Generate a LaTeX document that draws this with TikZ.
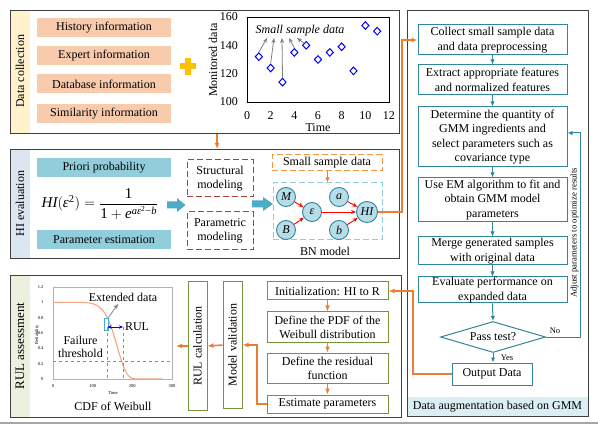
\documentclass[tikz,border=0pt]{standalone}
\usepackage{fontspec}
\setmainfont{Liberation Serif}
\usepackage{amsmath}
\usetikzlibrary{arrows.meta,shapes.geometric,calc}
\definecolor{cStripY}{HTML}{FFF2CC}
\definecolor{cStripB}{HTML}{DCE6F0}
\definecolor{cStripG}{HTML}{EBF1DE}
\definecolor{cStripM}{HTML}{DAEEF3}
\definecolor{cOrange}{HTML}{F8CBAD}
\definecolor{cTeal}{HTML}{92CDDC}
\definecolor{cBlock}{HTML}{4BACC6}
\definecolor{cRed}{HTML}{A9423C}
\definecolor{cOdash}{HTML}{F79646}
\definecolor{cBdash}{HTML}{93CDDD}
\definecolor{cNodeF}{HTML}{B7DEE8}
\definecolor{cNodeB}{HTML}{31859C}
\definecolor{cConn}{HTML}{ED7D31}
\definecolor{cOlive}{HTML}{77933C}
\definecolor{cGMM}{HTML}{31859C}
\definecolor{cPlus}{HTML}{FFC000}
\definecolor{cCurve}{HTML}{F4A582}
\definecolor{cPurple}{HTML}{8F7EC8}
\definecolor{cCyan}{HTML}{4BACC6}
\tikzset{
 outer/.style={draw=black!75, line width=1.3pt, inner sep=0},
 obox/.style={fill=cOrange, minimum width=134, minimum height=19, inner sep=0},
 tbox/.style={fill=cTeal, minimum width=134, minimum height=19, inner sep=0},
 rdash/.style={draw=cRed, line width=1pt, dash pattern=on 6pt off 3pt, minimum width=66, minimum height=37, align=center, inner sep=0},
 bnode/.style={circle, draw=cNodeB, fill=cNodeF, line width=0.9pt, minimum size=19, inner sep=0, font=\fontsize{12}{14}\selectfont\itshape},
 redarr/.style={-{Stealth[length=5pt,width=4pt]}, draw=red, line width=0.9pt},
 oarr/.style={-{Latex[length=6pt,width=5pt]}, draw=cConn, line width=1.5pt},
 gbox/.style={draw=cOlive, line width=1pt, minimum width=121, align=center, inner sep=0},
 mbox/.style={draw=cGMM, line width=1pt, fill=white, minimum width=149, align=center, inner sep=0, font=\fontsize{12}{14.5}\selectfont},
 tarr/.style={-{Latex[length=5pt,width=4.5pt]}, draw=cGMM, line width=1pt},
 garr/.style={-{Stealth[length=5pt,width=4pt]}, draw=gray, line width=0.8pt},
 ptm/.style={diamond, draw=blue, line width=1pt, minimum width=7.5, minimum height=8, inner sep=0},
 tinyf/.style={font=\fontsize{4.5}{5}\selectfont},
}
\begin{document}
\begin{tikzpicture}[x=1pt,y=-1pt,font=\fontsize{12}{14}\selectfont]
\useasboundingbox (0,0) rectangle (598,425);
% strips
\fill[cStripY] (10,10) rectangle (30,133);
\fill[cStripB] (10,149) rectangle (30,258);
\fill[cStripG] (10,275) rectangle (30,417);
\fill[cStripM] (407,397) rectangle (588,416);
% outer boxes
\node[outer, anchor=north west, minimum width=389, minimum height=123] (dc) at (10,10) {};
\node[outer, anchor=north west, minimum width=389, minimum height=109] (hi) at (10,149) {};
\node[outer, anchor=north west, minimum width=391, minimum height=142] (rul) at (10,275) {};
\node[outer, anchor=north west, minimum width=181, minimum height=406] (gmm) at (407,10) {};
\draw[gray!70, line width=1.5pt] (0,423) -- (598,423);
% section labels
\node[rotate=90] (dclab) at (20,71.5) {Data collection};
\node[rotate=90] (hilab) at (20,203.5) {HI evaluation};
\node[rotate=90, font=\fontsize{13}{15}\selectfont] (rullab) at (20,346) {RUL assessment};
\node (gmmlab) at (497.5,406.5) {Data augmentation based on GMM};
% data collection
\node[obox] (h1) at (104,27.5) {History information};
\node[obox] (h2) at (104,56) {Expert information};
\node[obox] (h3) at (104,84) {Database information};
\node[obox] (h4) at (104,113.5) {Similarity information};
\fill[cPlus] (180,63.5) rectangle (196,69.5);
\fill[cPlus] (185,58) rectangle (191,75);
% top plot
\draw[line width=0.8pt] (247,17) rectangle (389,102);
\foreach \v/\y in {160/17,140/45.33,120/73.67,100/102} \node[anchor=east, inner sep=0] at (238,\y) {\v};
\foreach \t in {0,2,4,6,8,10,12} \node[inner sep=0] at ({247+\t*11.833},116) {\t};
\node[rotate=90] (ylab) at (213,60) {Monitored data};
\node[inner sep=0] (xlab) at (318,128) {Time};
\foreach \i/\v in {1/132,2/124,3/114,4/135,5/140,6/130,7/135,8/139,9/122,10/154,11/150}
  \node[ptm] (p\i) at ({247+\i*11.833},{102-(\v-100)*1.4167}) {};
\node[font=\fontsize{12}{14}\selectfont\itshape] (ssdt) at (300,31) {Small sample data};
\draw[garr] (p1.north) -- (267,38);
\draw[garr] (p2.north) -- (274,38);
\draw[garr] (p3.north) -- (282,38);
\draw[garr] (p4.north) -- (289,38);
\draw[garr] (p5.north west) -- (297,38);
% HI evaluation
\node[tbox] (prior) at (104,167.5) {Priori probability};
\node[tbox] (pest) at (104,239.5) {Parameter estimation};
\node[font=\fontsize{15}{17}\selectfont] (formula) at (100,204) {$\text{\itshape HI}(\text{\itshape ε}^{\text{2}})=\dfrac{\text{1}}{\text{1}+\text{\itshape e}^{\text{\itshape aε}^{\text{2}}\text{−\itshape b}}}$};
\fill[cBlock] (167,201.5) -- (177,201.5) -- (177,198) -- (185.5,205) -- (177,212) -- (177,208.5) -- (167,208.5) -- cycle;
\node[rdash] (struct) at (220,178.5) {Structural\\modeling};
\node[rdash, minimum height=38] (param) at (220,231) {Parametric\\modeling};
\fill[cBlock] (252,200.5) -- (263,200.5) -- (263,197) -- (273,204) -- (263,211) -- (263,207.5) -- (252,207.5) -- cycle;
\node[draw=cOdash, line width=1pt, dash pattern=on 6pt off 3pt, minimum width=110, minimum height=16, inner sep=0] (ssd) at (327,163) {Small sample data};
\node[draw=cBdash, line width=1pt, dash pattern=on 6pt off 3pt, minimum width=109, minimum height=57, inner sep=0] (bn) at (327.5,211.5) {};
\node (bnlab) at (325,251) {BN model};
\draw[-{Latex[length=5pt,width=4.5pt]}, draw=cConn, line width=1pt] (ssd.south -| bn.north) -- (bn.north);
\node[bnode] (M) at (286,197) {M};
\node[bnode] (B) at (286,230) {B};
\node[bnode] (eps) at (312,212) {ε};
\node[bnode] (a) at (339,197) {a};
\node[bnode] (b) at (339,230) {b};
\node[bnode, minimum size=21] (HI) at (367,212) {HI};
\draw[redarr] (M) -- (eps);
\draw[redarr] (B) -- (eps);
\draw[redarr] (eps) -- (HI);
\draw[redarr] (a) -- (HI);
\draw[redarr] (b) -- (HI);
% GMM flow
\node[mbox, minimum height=30] (collect) at (492.5,40) {Collect small sample data\\and data preprocessing};
\node[mbox, minimum height=30] (extract) at (492.5,80) {Extract appropriate features\\and normalized features};
\node[mbox, minimum height=60] (det) at (492.5,137) {Determine the quantity of\\GMM ingredients and\\select parameters such as\\covariance type};
\node[mbox, minimum height=44] (em) at (492.5,200) {Use EM algorithm to fit and\\obtain GMM model\\parameters};
\node[mbox, minimum height=28] (merge) at (492.5,251) {Merge generated samples\\with original data};
\node[mbox, minimum height=26] (eval) at (492.5,290) {Evaluate performance on\\expanded data};
\node[diamond, aspect=3.4, draw=cGMM, line width=1pt, fill=white, minimum width=105, minimum height=31, inner sep=0] (pass) at (493,337) {Pass test?};
\node[mbox, minimum width=80, minimum height=22] (out) at (492,374) {Output Data};
\draw[tarr] (collect) -- (extract);
\draw[tarr] (extract) -- (det);
\draw[tarr] (det) -- (em);
\draw[tarr] (em) -- (merge);
\draw[tarr] (merge) -- (eval);
\draw[tarr] (eval.south) -- (pass.north);
\draw[tarr] (pass.south) -- (out.north -| pass.south);
\coordinate (fb) at (580,133);
\draw[tarr] (pass.east) -| (fb) -- (det.east |- fb);
\node[font=\fontsize{8.5}{10}\selectfont] (nolab) at (555,331) {No};
\node[font=\fontsize{8.5}{10}\selectfont] (yeslab) at (507,357.5) {Yes};
\node[rotate=90, font=\fontsize{8.7}{10}\selectfont] (adj) at (574.5,233) {Adjust parameters to optimize results};
% HI -> collect
\coordinate (tx) at (402,0);
\draw[oarr] (HI.east) -- (HI.east -| tx) -- (tx |- collect.west) -- (collect.west);
\coordinate (xa) at (217,0);
\draw[oarr] (dc.south -| xa) -- (hi.north -| xa);
% RUL section
\node[gbox, minimum height=18] (init) at (327.5,291) {Initialization: HI to R};
\node[gbox, minimum height=30] (pdf) at (327.5,327) {Define the PDF of the\\Weibull distribution};
\node[gbox, minimum height=30] (resid) at (327.5,368) {Define the residual\\function};
\node[gbox, minimum height=18] (est) at (327.5,404) {Estimate parameters};
\draw[oarr, line width=1.2pt] (init) -- (pdf);
\draw[oarr, line width=1.2pt] (pdf) -- (resid);
\draw[oarr, line width=1.2pt] (resid) -- (est);
\node[draw=cOlive, line width=1pt, minimum width=126, minimum height=19, inner sep=0, rotate=90] (mv) at (232.5,345) {Model validation};
\node[draw=cOlive, line width=1pt, minimum width=128, minimum height=19, inner sep=0, rotate=90] (rc) at (197.5,346) {RUL calculation};
\coordinate (t2) at (257,0);
\draw[oarr] (est.west) -- (est.west -| t2) -- (t2 |- mv.south) -- (mv.south);
\draw[oarr] (mv.north) -- (rc.south);
\coordinate (plotin) at (176,346);
\draw[oarr] (rc.north) -- (plotin);
\coordinate (t3) at (413,0);
\draw[oarr] (out.west) -- (out.west -| t3) -- (t3 |- init.east) -- (init.east);
% Weibull plot
\draw[gray!60, line width=0.6pt] (53,287) rectangle (172,379);
\foreach \r in {0,0.2,0.4,0.6,0.8,1,1.2} \node[tinyf, anchor=east] at (47,{379-\r*76.67}) {\r};
\foreach \t in {0,100,200,300} \node[tinyf] at ({53+\t*0.39667},386) {\t};
\node[tinyf] (tl) at (113,393) {Time};
\node[tinyf, rotate=90] (rl) at (37,335) {Reliability};
\draw[cCurve, line width=1.1pt, domain=0:275, samples=120, smooth] plot ({53+\x*0.39667},{379-76.67*exp(-min((\x/165)^8,10))});
\draw[cPurple, dashed, line width=0.7pt] (107,327) -- (107,379);
\draw[cPurple, dashed, line width=0.7pt] (123,327) -- (123,379);
\draw[cPurple, dashed, line width=0.7pt] (53,361) -- (172,361);
\node[draw=cCyan, line width=0.8pt, minimum width=4, minimum height=12, inner sep=0] (ext) at (106,324) {};
\node (extt) at (123,297) {Extended data};
\coordinate (exttip) at (118,304);
\draw[garr] (ext.north east) -- (exttip);
\draw[{Stealth[length=4pt,width=3.5pt]}-{Stealth[length=4pt,width=3.5pt]}, draw=blue, line width=0.8pt] (107.5,327) -- (123,327);
\node (rullbl) at (137,327) {RUL};
\node[align=center, font=\fontsize{12}{13}\selectfont] (fth) at (80.5,346.5) {Failure\\threshold};
\node (cdf) at (113,406) {CDF of Weibull};
\end{tikzpicture}
\end{document}
